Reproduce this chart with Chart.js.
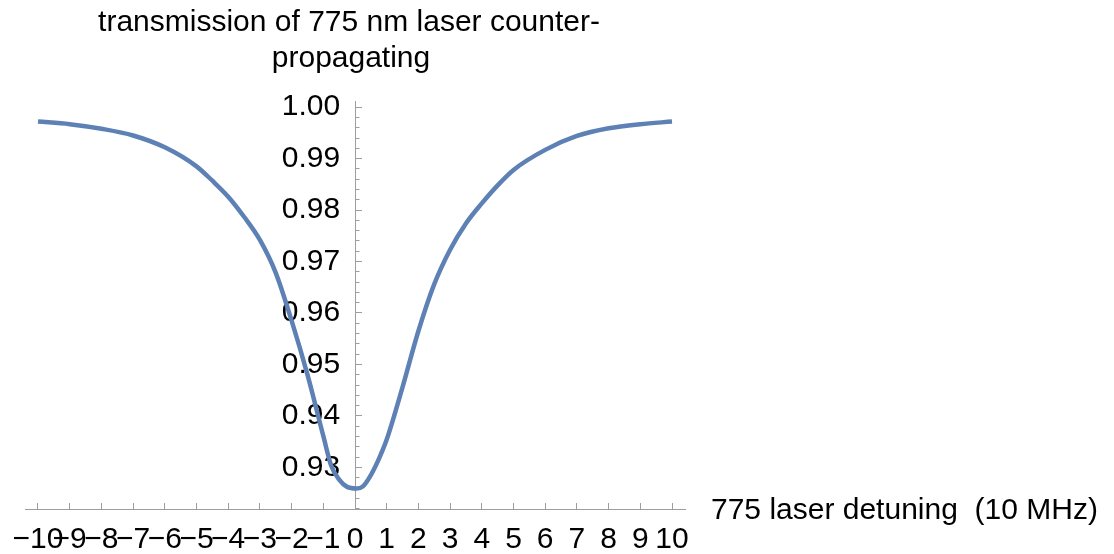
<!DOCTYPE html>
<html>
<head>
<meta charset="utf-8">
<script src="https://cdn.jsdelivr.net/npm/chart.js@4/dist/chart.umd.min.js"></script>
<style>
  html, body { margin: 0; padding: 0; background: #ffffff; }
  #plot { display: block; }
</style>
</head>
<body>
<canvas id="plot" width="1114" height="554"></canvas>
<script>
// Laser detuning (units of 10 MHz)
const DETUNING = [-10, -9, -8, -7, -6, -5, -4.5, -4, -3.5, -3,
  -2.5, -2, -1.5, -1, -0.75, -0.5, -0.25, 0.05, 0.25, 0.5,
  0.75, 1, 1.5, 2, 2.5, 3, 3.5, 4, 4.5, 5,
  6, 7, 8, 9, 10];

// Transmitted fraction of the 775 nm beam
const TRANSMISSION = [0.9972, 0.9967, 0.9958, 0.9945, 0.9922, 0.9885, 0.9857, 0.9826, 0.9787, 0.9742,
  0.9678, 0.9585, 0.9480, 0.9361, 0.9303, 0.9276, 0.9262, 0.9259, 0.9263, 0.9285,
  0.9316, 0.9354, 0.9456, 0.9565, 0.9656, 0.9723, 0.9774, 0.9813, 0.9848, 0.9878,
  0.9917, 0.9944, 0.9959, 0.9967, 0.9972];

// Axis ticks
const X_TICKS = [-10, -9, -8, -7, -6, -5, -4, -3, -2, -1, 0, 1, 2, 3, 4, 5, 6, 7, 8, 9, 10];
const Y_TICKS = [0.93, 0.94, 0.95, 0.96, 0.97, 0.98, 0.99, 1.00];
const Y_MINOR_TICKS = [0.922, 0.924, 0.926, 0.928, 0.932, 0.934, 0.936, 0.938,
  0.942, 0.944, 0.946, 0.948, 0.952, 0.954, 0.956, 0.958,
  0.962, 0.964, 0.966, 0.968, 0.972, 0.974, 0.976, 0.978,
  0.982, 0.984, 0.986, 0.988, 0.992, 0.994, 0.996, 0.998];

// Text
const TITLE_LINES = ['transmission of 775 nm laser counter-', 'propagating'];
const X_LABEL = '775 laser detuning  (10 MHz)';

// Plot range
const X_MIN = -10.41, X_MAX = 10.41;
const Y_MIN = 0.9219, Y_MAX = 1.0012;
// the y tick labels hang just left of the vertical axis (x = 0)
const Y_LABEL_ANCHOR = -0.47;

const FONT_FAMILY = '"Liberation Sans", Arial, Helvetica, sans-serif';
const FONT_SIZE = 30;
const AXIS_GRAY = '#9d9d9d';
const CURVE_BLUE = '#5e81b5';

const fmtX = v => (v < 0 ? '\u2212' + Math.abs(v) : String(v));

// axes sit inside the plot box, so they must not push its edges inward
const noEdgePadding = s => {
  s.paddingLeft = 0; s.paddingRight = 0; s.paddingTop = 0; s.paddingBottom = 0;
};

// Title (two centred lines) and the horizontal axis caption
const captions = {
  id: 'captions',
  afterDraw(chart) {
    const ctx = chart.ctx;
    ctx.save();
    ctx.fillStyle = '#000';
    ctx.font = FONT_SIZE + 'px ' + FONT_FAMILY;
    ctx.textAlign = 'center';
    ctx.textBaseline = 'alphabetic';
    ctx.fillText(TITLE_LINES[0], 349, 31);
    ctx.fillText(TITLE_LINES[1], 351, 67);
    ctx.textAlign = 'left';
    ctx.textBaseline = 'middle';
    ctx.fillText(X_LABEL, 711, 511);
    ctx.restore();
  }
};

const yRange = { type: 'linear', min: Y_MIN, max: Y_MAX, afterFit: noEdgePadding };

new Chart(document.getElementById('plot'), {
  type: 'line',
  data: {
    datasets: [{
      data: DETUNING.map((x, i) => ({ x, y: TRANSMISSION[i] })),
      borderColor: CURVE_BLUE,
      borderWidth: 4.5,
      pointRadius: 0,
      fill: false,
      cubicInterpolationMode: 'monotone'
    }]
  },
  options: {
    responsive: false,
    animation: false,
    layout: { padding: { left: 25, right: 1114 - 685, top: 101, bottom: 554 - 509 } },
    plugins: {
      legend: { display: false },
      tooltip: { enabled: false },
      title: { display: false }
    },
    scales: {
      x: {
        type: 'linear',
        min: X_MIN,
        max: X_MAX,
        position: { y: Y_MIN },
        afterFit: noEdgePadding,
        afterBuildTicks: s => { s.ticks = X_TICKS.map(v => ({ value: v })); },
        ticks: {
          autoSkip: false,
          maxRotation: 0,
          minRotation: 0,
          padding: 20,
          color: '#000',
          font: { family: FONT_FAMILY, size: FONT_SIZE },
          callback: v => fmtX(v)
        },
        grid: { drawOnChartArea: false, tickLength: -7, tickColor: AXIS_GRAY, tickWidth: 1 },
        border: { color: AXIS_GRAY, width: 1 }
      },
      // tick labels of the vertical axis
      y: {
        ...yRange,
        position: { x: Y_LABEL_ANCHOR },
        afterBuildTicks: s => { s.ticks = Y_TICKS.map(v => ({ value: v })); },
        ticks: {
          autoSkip: false,
          color: '#000',
          font: { family: FONT_FAMILY, size: FONT_SIZE },
          callback: v => v.toFixed(2)
        },
        grid: { display: false },
        border: { display: false }
      },
      // axis line with major tick marks
      yMajor: {
        ...yRange,
        axis: 'y',
        position: { x: 0 },
        afterBuildTicks: s => { s.ticks = Y_TICKS.map(v => ({ value: v })); },
        ticks: { display: false, autoSkip: false },
        grid: { drawOnChartArea: false, tickLength: -7, tickColor: AXIS_GRAY, tickWidth: 1 },
        border: { color: AXIS_GRAY, width: 1 }
      },
      // minor tick marks
      yMinor: {
        ...yRange,
        axis: 'y',
        position: { x: 0 },
        afterBuildTicks: s => { s.ticks = Y_MINOR_TICKS.map(v => ({ value: v })); },
        ticks: { display: false, autoSkip: false },
        grid: { drawOnChartArea: false, tickLength: -4.5, tickColor: AXIS_GRAY, tickWidth: 1 },
        border: { display: false }
      }
    }
  },
  plugins: [captions]
});
</script>
</body>
</html>
